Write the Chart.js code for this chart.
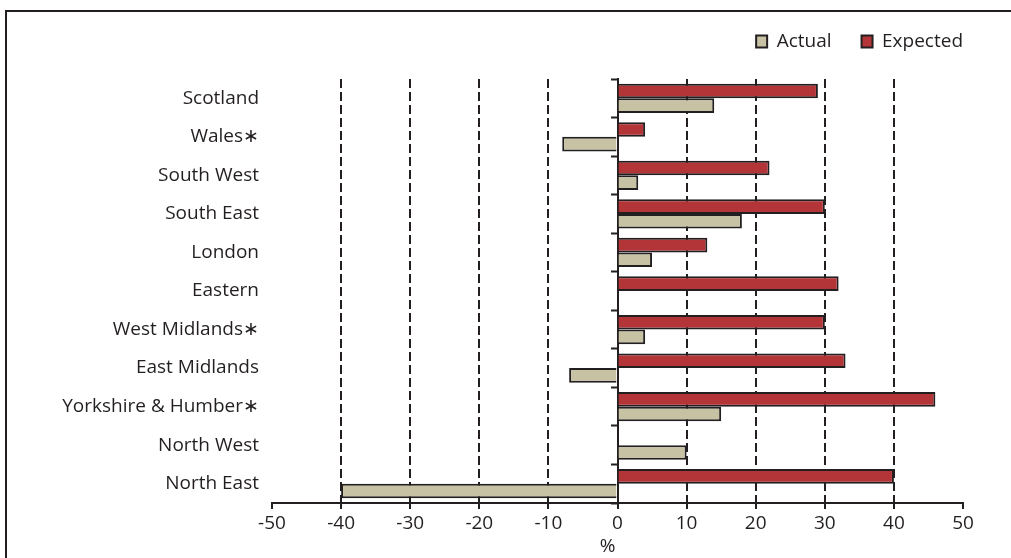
<!DOCTYPE html>
<html>
<head>
<meta charset="utf-8">
<script src="https://cdn.jsdelivr.net/npm/chart.js@4.4.1/dist/chart.umd.min.js"></script>
<style>
    body { margin: 0; background: #fff; overflow: hidden; }
    #frame { position: absolute; left: 5px; top: 10px; width: 1100px; height: 700px; border: 2px solid #231f20; }
    #wrap { position: absolute; left: 0; top: 0; width: 1011px; height: 558px; }
</style>
</head>
<body>
<div id="frame"></div>
<div id="wrap"><canvas id="regionChart"></canvas></div>
<script>
// regions, top to bottom
const regions = ['Scotland', 'Wales\u2217', 'South West', 'South East', 'London', 'Eastern',
    'West Midlands\u2217', 'East Midlands', 'Yorkshire & Humber\u2217', 'North West', 'North East'];
const expectedValues = [29, 4, 22, 30, 13, 32, 30, 33, 46, 0, 40];
const actualValues = [14, -8, 3, 18, 5, 0, 4, -7, 15, 10, -40];
const xTicks = [-50, -40, -30, -20, -10, 0, 10, 20, 30, 40, 50];

const ink = '#231f20';
const labelFont = { family: '"Open Sans", Lato, sans-serif', size: 19 };

// push the plot down below the legend
const legendSpacing = {
    id: 'legendSpacing',
    beforeInit(chart) {
        const origFit = chart.legend.fit;
        chart.legend.fit = function() {
            origFit.bind(chart.legend)();
            this.height += 18;
        };
    }
};

document.addEventListener('DOMContentLoaded', function() {
    const ctx = document.getElementById('regionChart').getContext('2d');

    new Chart(ctx, {
        type: 'bar',
        data: {
            labels: regions,
            datasets: [{
                label: 'Expected',
                data: expectedValues,
                backgroundColor: '#b33538',
                borderColor: ink,
                borderWidth: 2,
                yAxisID: 'y'
            }, {
                label: 'Actual',
                data: actualValues,
                backgroundColor: '#c8c2a4',
                borderColor: ink,
                borderWidth: 2,
                yAxisID: 'y'
            }]
        },
        plugins: [legendSpacing],
        options: {
            indexAxis: 'y',
            responsive: true,
            maintainAspectRatio: false,
            animation: false,
            datasets: {
                bar: {
                    categoryPercentage: 0.76,
                    barPercentage: 1.0
                }
            },
            layout: {
                padding: { top: 2, right: 18, bottom: 0, left: 0 }
            },
            plugins: {
                tooltip: { enabled: false },
                legend: {
                    position: 'top',
                    align: 'end',
                    labels: {
                        color: ink,
                        font: labelFont,
                        boxWidth: 11,
                        boxHeight: 12,
                        padding: 30,
                        // Actual listed first
                        sort: (a, b) => b.datasetIndex - a.datasetIndex
                    }
                }
            },
            scales: {
                x: {
                    min: -50,
                    max: 50,
                    afterBuildTicks: function(scale) {
                        scale.ticks = xTicks.map(v => ({ value: v }));
                    },
                    afterFit: function(scale) {
                        scale.height = 55;
                    },
                    ticks: {
                        color: ink,
                        font: labelFont,
                        padding: 3
                    },
                    grid: {
                        color: function(c) {
                            const v = c.tick ? c.tick.value : null;
                            if (v === -50 || v === 50 || v === 0) return 'rgba(0,0,0,0)';
                            return ink;
                        },
                        lineWidth: 2,
                        tickColor: ink,
                        tickLength: 6,
                        tickWidth: 2
                    },
                    border: {
                        display: true,
                        color: ink,
                        width: 2,
                        dash: [9, 4]
                    },
                    title: {
                        display: true,
                        text: '%    ',
                        color: ink,
                        font: labelFont,
                        padding: { top: 0, bottom: 0 }
                    }
                },
                y: {
                    position: 'left',
                    afterFit: function(scale) {
                        scale.width = 272;
                    },
                    ticks: {
                        color: ink,
                        font: labelFont,
                        padding: 13
                    },
                    grid: { display: false, drawTicks: false },
                    border: { display: false }
                },
                zeroAxis: {
                    axis: 'y',
                    type: 'category',
                    labels: regions,
                    position: { x: 0 },
                    ticks: { display: false },
                    grid: {
                        drawOnChartArea: false,
                        offset: true,
                        tickLength: 6,
                        tickWidth: 2,
                        tickColor: ink
                    },
                    border: {
                        display: true,
                        color: ink,
                        width: 2
                    }
                },
                rightPad: {
                    axis: 'y',
                    type: 'linear',
                    position: 'right',
                    afterFit: function(scale) {
                        scale.width = 30;
                    },
                    ticks: { display: false },
                    grid: { display: false, drawTicks: false },
                    border: { display: false }
                }
            }
        }
    });
});
</script>
</body>
</html>
